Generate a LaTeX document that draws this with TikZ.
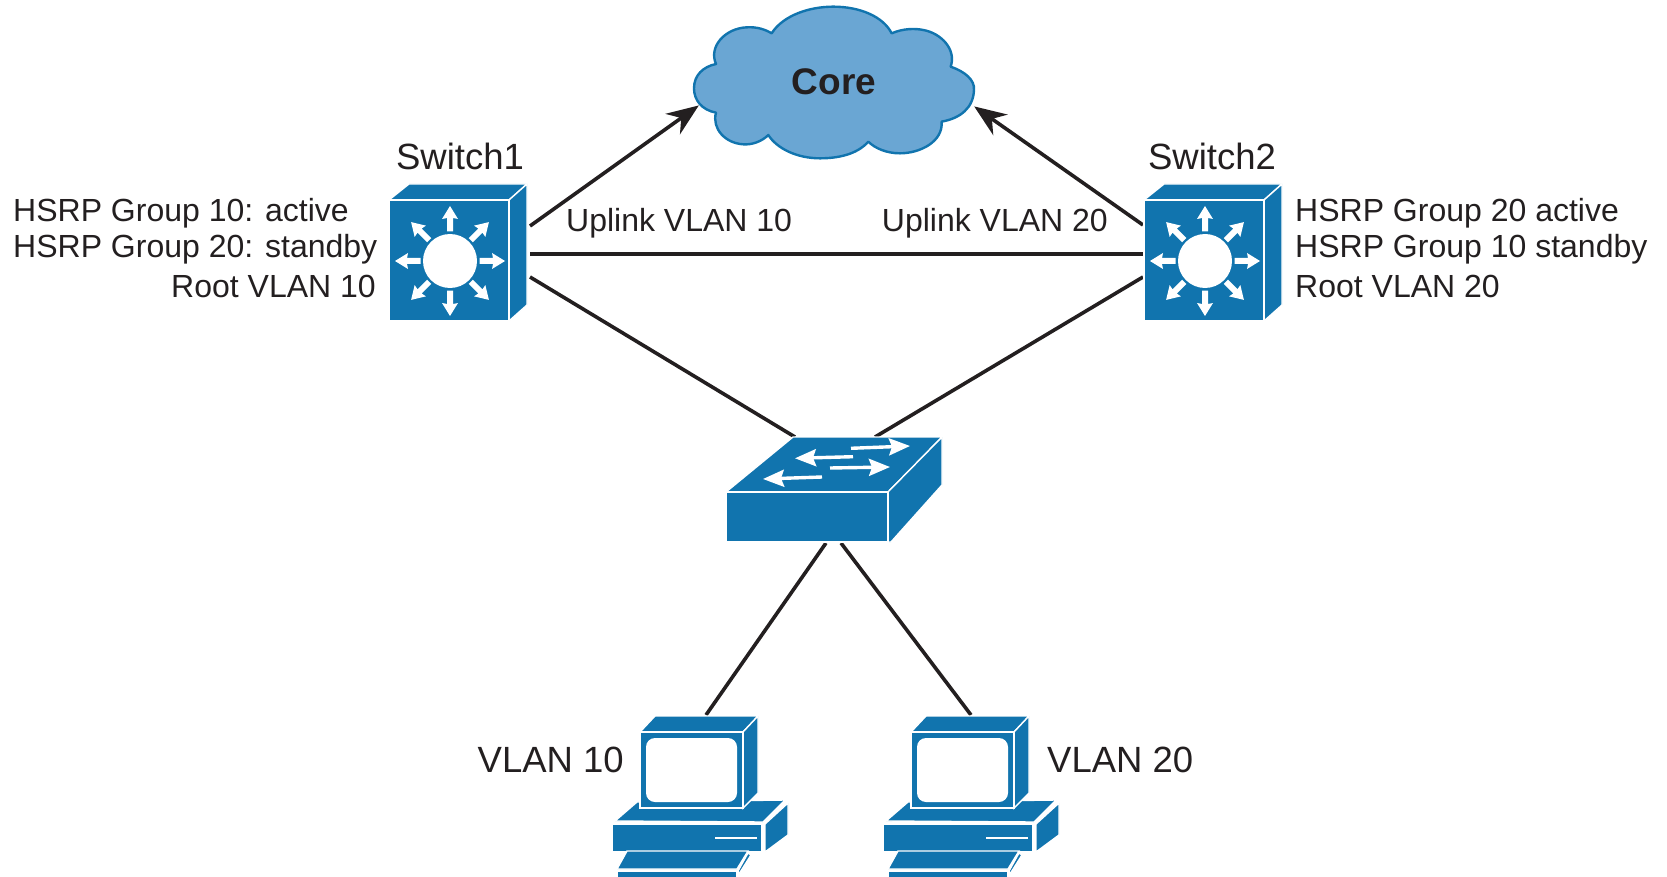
\documentclass[tikz,border=0pt]{standalone}
\usepackage{fontspec}
\setmainfont{Liberation Sans}
\usetikzlibrary{arrows.meta}
\definecolor{ciscoblue}{HTML}{1174AE}
\definecolor{cloudblue}{HTML}{6AA6D3}
\definecolor{ink}{HTML}{231F20}
\tikzset{
  small/.style={font=\fontsize{32}{38}\selectfont,text=ink,inner sep=0pt},
  big/.style={font=\fontsize{36.5}{42}\selectfont,text=ink,inner sep=0pt},
  link/.style={draw=ink,line width=3.6pt},
  uplink/.style={link,-{Stealth[length=32pt,width=25pt]},shorten >=-1pt},
  face/.style={fill=ciscoblue,draw=white,line width=1.4pt,line join=miter},
  pics/multilayer/.style={code={
    \path[face] (0,0) -- (20,-16) -- (138,-16) -- (120,0) -- cycle;
    \path[face] (120,0) -- (138,-16) -- (138,105) -- (120,121) -- cycle;
    \path[face] (0,0) rectangle (120,121);
    \fill[white] (61,61) circle (27);
    \foreach \a in {0,45,...,315}{
      \fill[white,shift={(61,61)},rotate=\a]
        (29.5,-3) -- (43,-3) -- (42,-8) -- (55,0) -- (42,8) -- (43,3) -- (29.5,3) -- cycle;
    }
  }},
  swarrow/.style={draw=white,line width=3.4pt,-{Stealth[length=21pt,width=17pt,inset=3pt]}},
  pics/workgroup/.style={code={
    \path[face] (0,55) -- (67,0) -- (216,0) -- (162,55) -- cycle;
    \path[face] (162,55) -- (216,0) -- (216,48) -- (165,105) -- (162,105) -- cycle;
    \path[face] (0,55) rectangle (162,105);
    \draw[swarrow] (125,11.3) -- (184,9);
    \draw[swarrow] (127,19.7) -- (69,21.3);
    \draw[swarrow] (104,31) -- (164,30);
    \draw[swarrow] (96,40) -- (37,42);
  }},
  pics/workstation/.style={code={
    % base
    \path[face] (5,105) -- (27,86) -- (175,84) -- (153,106) -- cycle;
    \path[face] (155,108) -- (178,87) -- (178,119) -- (155,136) -- cycle;
    \path[face] (2,108) rectangle (152,136);
    \draw[white,line width=1.4pt] (105,122) -- (147,122);
    % monitor
    \path[face] (30,16) -- (45,0) -- (148,0) -- (133,16) -- cycle;
    \path[face] (133,16) -- (148,0) -- (148,77) -- (133,92) -- cycle;
    \path[face] (30,16) rectangle (133,92);
    \fill[white,rounded corners=9pt] (36,22) rectangle (127,86);
    % keyboard
    \path[face] (17,135) -- (7,153) -- (127,153) -- (138,135) -- cycle;
    \path[face] (7,155) rectangle (127,162);
    \path[face] (128,155) -- (138,137) -- (141,139) -- (129,158) -- cycle;
  }},
}
\begin{document}
\begin{tikzpicture}[x=1pt,y=-1pt]
\useasboundingbox (0,0) rectangle (1667,877);
% cloud
\begin{scope}[shift={(680,0)},x=0.3333pt,y=-0.3333pt]
\draw[fill=cloudblue,draw=ciscoblue,line width=2.4pt,line join=round]
  (275,100) .. controls (310,45) and (390,20) .. (460,20)
  .. controls (540,20) and (610,50) .. (635,100)
  .. controls (670,85) and (705,85) .. (730,90)
  .. controls (785,100) and (830,150) .. (812,200)
  .. controls (855,215) and (885,240) .. (882,270)
  .. controls (880,325) and (840,355) .. (785,365)
  .. controls (790,425) and (720,460) .. (660,460)
  .. controls (620,460) and (585,445) .. (565,425)
  .. controls (530,465) and (470,475) .. (420,475)
  .. controls (350,475) and (290,445) .. (265,405)
  .. controls (245,425) and (215,435) .. (190,433)
  .. controls (135,430) and (95,385) .. (108,338)
  .. controls (65,330) and (42,300) .. (42,265)
  .. controls (42,225) and (70,200) .. (108,192)
  .. controls (85,140) and (135,85) .. (200,82)
  .. controls (230,80) and (255,88) .. (275,100) -- cycle;
\end{scope}
\node[font=\bfseries\fontsize{37}{42}\selectfont,text=ink,inner sep=0pt,anchor=base] (core) at (834,95) {Core};
% connector ends
\coordinate (s1a) at (530,226);
\coordinate (s1b) at (530,254);
\coordinate (s1c) at (530,277);
\coordinate (s2a) at (1143,225);
\coordinate (s2b) at (1143,254);
\coordinate (s2c) at (1143,277);
\coordinate (cloudL) at (698,106);
\coordinate (cloudR) at (975,107);
\coordinate (swL) at (795,437);
\coordinate (swR) at (875,437);
\coordinate (swB1) at (826,543);
\coordinate (swB2) at (841,543);
\coordinate (pc1t) at (706,715);
\coordinate (pc2t) at (971,715);
\draw[uplink] (s1a) -- (cloudL);
\draw[uplink] (s2a) -- (cloudR);
\draw[link] (s1b) -- (s2b);
\draw[link] (s1c) -- (swL);
\draw[link] (s2c) -- (swR);
\draw[link] (swB1) -- (pc1t);
\draw[link] (swB2) -- (pc2t);
% devices
\pic (switch1) at (389,200) {multilayer};
\pic (switch2) at (1144,200) {multilayer};
\pic (access) at (726,437) {workgroup};
\pic (pc1) at (610,716) {workstation};
\pic (pc2) at (881,716) {workstation};
% labels
\node[big,anchor=base] (lsw1) at (460,170) {Switch1};
\node[big,anchor=base] (lsw2) at (1212,170) {Switch2};
\node[small,anchor=base west] (l1a) at (13,222) {HSRP Group 10: active};
\node[small,anchor=base west] (l1b) at (13,258) {HSRP Group 20: standby};
\node[small,anchor=base east] (l1c) at (376,298) {Root VLAN 10};
\node[small,anchor=base west] (l2a) at (1295,222) {HSRP Group 20 active};
\node[small,anchor=base west] (l2b) at (1295,258) {HSRP Group 10 standby};
\node[small,anchor=base west] (l2c) at (1295,298) {Root VLAN 20};
\node[small,anchor=base west] (u1) at (566,232) {Uplink VLAN 10};
\node[small,anchor=base east] (u2) at (1108,232) {Uplink VLAN 20};
\node[big,anchor=base east] (v1) at (624,772) {VLAN 10};
\node[big,anchor=base west] (v2) at (1047,772) {VLAN 20};
\end{tikzpicture}
\end{document}
